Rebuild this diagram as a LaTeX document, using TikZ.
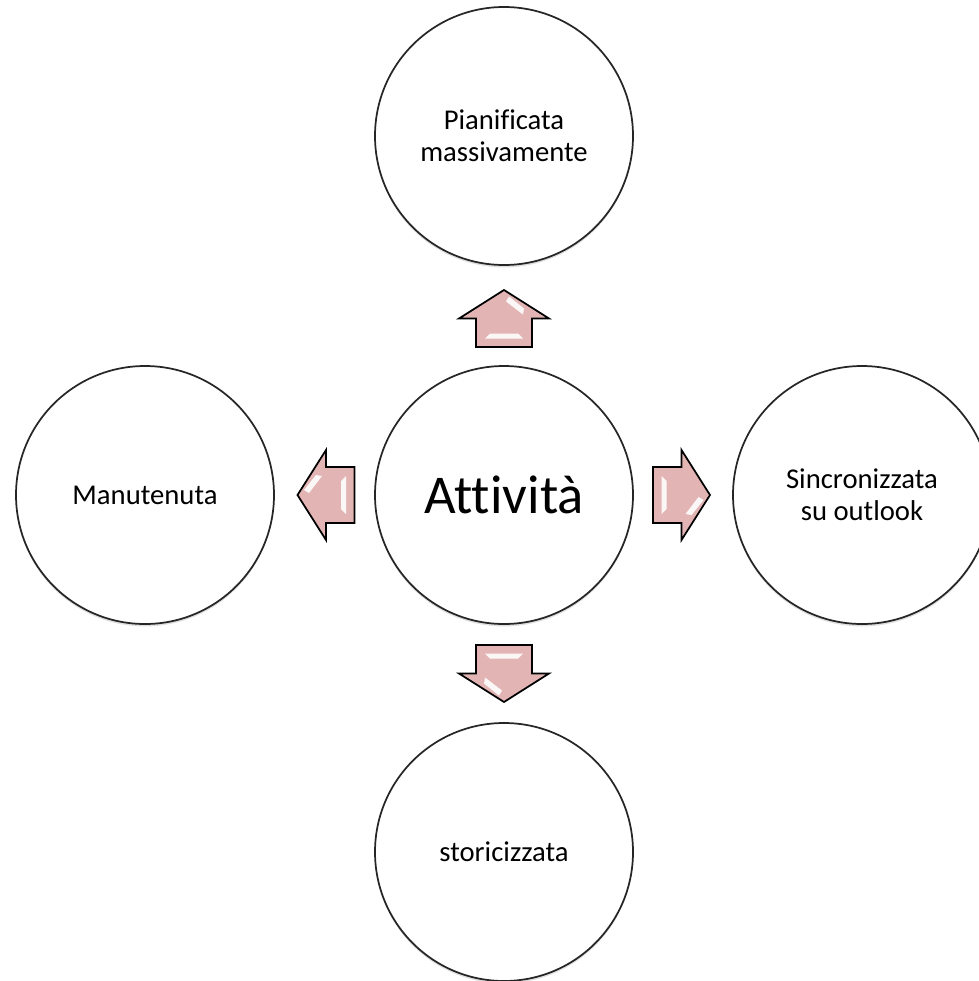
\documentclass[tikz,border=0pt]{standalone}
\usepackage{fontspec}
\setmainfont{Carlito}[Ligatures={NoCommon}]
\usetikzlibrary{calc,shadows}
\definecolor{arrowpink}{RGB}{226,181,180}
\begin{document}
\begin{tikzpicture}[x=0.75pt,y=-0.75pt,
  bubble/.style={circle, draw=black!85, line width=1.3pt, fill=white,
    minimum size=193.5pt, inner sep=0pt, align=center,
    font=\fontsize{21.5}{24}\selectfont,
    drop shadow={shadow xshift=0pt, shadow yshift=-1.8pt, opacity=0.25}},
  arrowline/.style={draw=black, line width=1.3pt, fill=arrowpink, line join=miter},
  gloss/.style={fill=white, opacity=0.9},
  blockarrow/.pic={
    \path[arrowline] (-28.5,-28) -- (0,-28) -- (0,-45) -- (28.5,0) -- (0,45) -- (0,28) -- (-28.5,28) -- cycle;
    \fill[gloss] (-20,-19) -- (-15,-14) -- (-15,14) -- (-20,19) -- cycle;
    \fill[gloss] (4,19) -- (10,20) -- (22,5) -- (17,2) -- cycle;
  }]
\useasboundingbox (0,0) rectangle (978,981);
\node[bubble, font=\fontsize{41}{46}\selectfont] (c) at (504,495) {Attività};
\node[bubble] (t) at (504,136) {Pianificata\\massivamente};
\node[bubble] (l) at (145,495) {Manutenuta};
\node[bubble] (r) at (862,495) {Sincronizzata\\su outlook};
\node[bubble] (b) at (504,852) {storicizzata};
\pic[rotate=90] at ($(c)!0.5!(t)+(0,3)$) {blockarrow};
\pic[rotate=180] at ($(c)!0.5!(l)+(1.5,0)$) {blockarrow};
\pic[rotate=0] at ($(c)!0.5!(r)+(-1.5,0)$) {blockarrow};
\pic[rotate=270] at ($(c)!0.5!(b)$) {blockarrow};
\end{tikzpicture}
\end{document}
